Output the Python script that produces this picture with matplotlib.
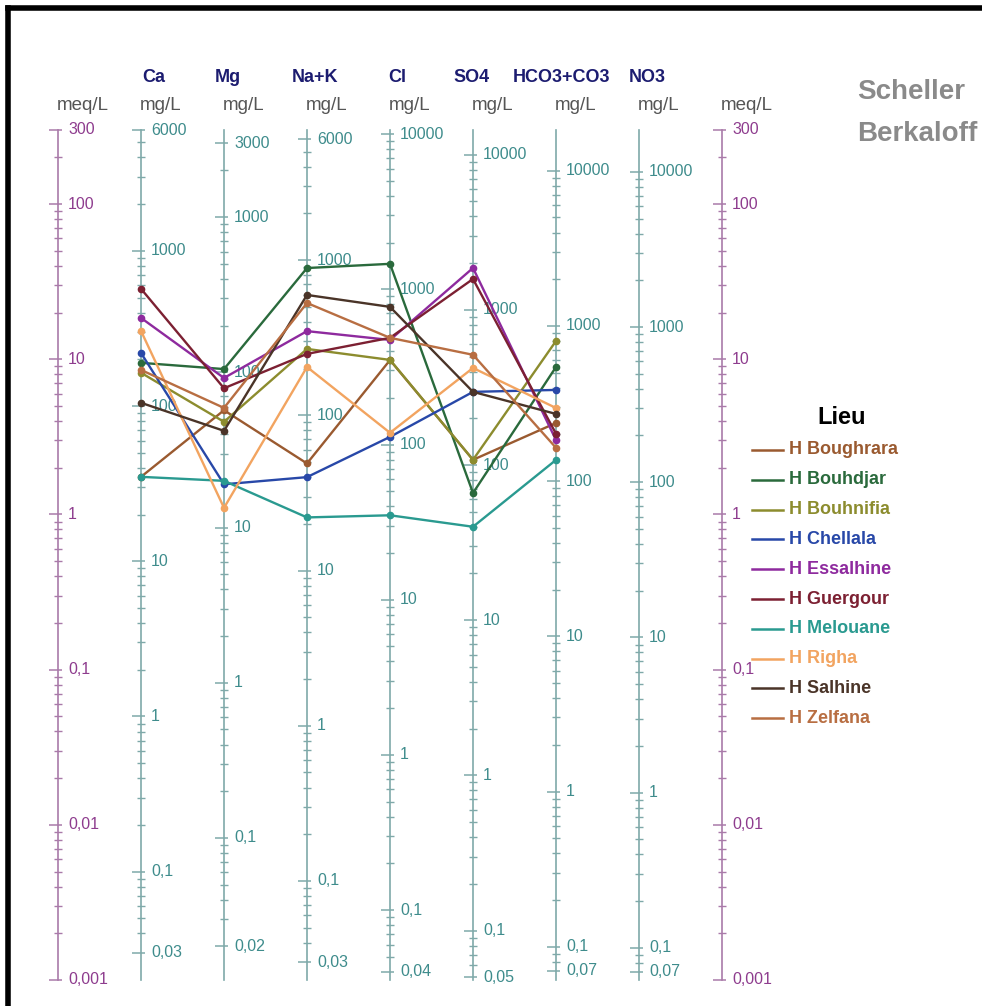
import numpy as np
import matplotlib.pyplot as plt
from matplotlib.lines import Line2D

plt.rcParams['font.family'] = ['Liberation Sans', 'DejaVu Sans']

# ion axes (left to right) and the equivalent weight used to convert mg/L -> meq/L
ions = ["Ca", "Mg", "Na+K", "Cl", "SO4", "HCO3+CO3", "NO3"]
eq_weight = [20.04, 12.15, 23.0, 35.45, 48.03, 61.02, 62.0]

sites = ["H Boughrara", "H Bouhdjar", "H Bouhnifia", "H Chellala", "H Essalhine",
         "H Guergour", "H Melouane", "H Righa", "H Salhine", "H Zelfana"]
colors = ["#9a5a30", "#2a6a3c", "#8c8c2e", "#2848a8", "#8e2a9e",
          "#7c2032", "#2a9a90", "#f2a460", "#4a3428", "#b86e42"]

# concentrations in mg/L, one value per site (same order as `sites`)
ca   = [35, 190, 164, 220, 370, 570, 35, 305, 105, 171]
mg   = [57, 105, 48, 19, 92, 79, 20, 13.4, 42, 59]
na_k = [49, 890, 268, 40, 349, 249, 22, 205, 597, 530]
cl   = [350, 1460, 351, 112, 472, 487, 35, 119, 771, 487]
so4  = [108, 66, 108, 296, 1860, 1580, 40, 422, 296, 513]
hco3 = [237, 544, 800, 387, 184, 202, 137, 296, 271, 164]

MEQ_LO, MEQ_HI = 0.001, 300.0
W, H = 982, 1006
PX = 664 / 8  # pixels per axis step


def fx(x):
    return x / W


def fy(y):
    return 1 - y / H


def nice_ticks(lo, hi):
    vals = []
    for n in range(int(np.floor(np.log10(lo))), int(np.ceil(np.log10(hi))) + 1):
        for k in range(1, 10):
            v = k * 10.0 ** n
            if lo * (1 - 1e-9) <= v <= hi * (1 + 1e-9):
                vals.append(v)
    return vals


def fmt(v):
    return f"{v:g}".replace(".", ",")


fig = plt.figure(figsize=(W / 100, H / 100), dpi=100)
ax = fig.add_axes([fx(58), fy(980), 664 / W, 850 / H])
ax.set_yscale("log")
ax.set_xlim(0, 8)
ax.set_ylim(MEQ_LO, MEQ_HI)
ax.axis("off")


def draw_axis(x, factor, line_col, txt_col):
    lo, hi = MEQ_LO * factor, MEQ_HI * factor
    ax.plot([x, x], [MEQ_LO, MEQ_HI], color=line_col, lw=1.2, clip_on=False, zorder=1)
    vals = nice_ticks(lo, hi)
    for v in vals:
        dec = abs(np.log10(v) - round(np.log10(v))) < 1e-9
        end = v == vals[0] or v == vals[-1]
        m = v / factor
        if dec or end:
            ax.hlines(m, x - 9 / PX, x + 4 / PX, color=line_col, lw=1.1, clip_on=False, zorder=1)
            ax.text(x + 10 / PX, m, fmt(v), color=txt_col, fontsize=11.5,
                    ha="left", va="center", clip_on=False)
        else:
            ax.hlines(m, x - 4 / PX, x + 4 / PX, color=line_col, lw=1.0, clip_on=False, zorder=1)


# meq/L axes on both sides
for x in (0, 8):
    draw_axis(x, 1.0, "#a97aa9", "#8e3c8e")

# mg/L axes for each ion
for i, w in enumerate(eq_weight):
    draw_axis(i + 1, w, "#7fa9a9", "#3e8c8c")

# site profiles (NO3 not measured)
values = np.array([ca, mg, na_k, cl, so4, hco3], dtype=float)
meq = values / np.array(eq_weight[:6])[:, None]
xs = np.arange(1, 7)
for j, site in enumerate(sites):
    ax.plot(xs, meq[:, j], color=colors[j], lw=1.7, marker="o", ms=4.5, zorder=3)

# headers
header_x = [154, 228, 315, 397, 472, 562, 647]
for name, hx in zip(ions, header_x):
    fig.text(fx(hx), fy(77), name, ha="center", va="center", fontsize=13,
             fontweight="bold", color="#1c1c70")

axis_px = [58 + k * PX for k in range(9)]
units = ["meq/L"] + ["mg/L"] * 7 + ["meq/L"]
for px, u in zip(axis_px, units):
    fig.text(fx(px - 1), fy(105), u, ha="left", va="center", fontsize=13.5, color="#555555")

fig.text(fx(857), fy(92), "Scheller", ha="left", va="center", fontsize=20,
         fontweight="bold", color="#8a8a8a")
fig.text(fx(857), fy(134), "Berkaloff", ha="left", va="center", fontsize=20,
         fontweight="bold", color="#8a8a8a")

# legend
fig.text(fx(842), fy(418), "Lieu", ha="center", va="center", fontsize=17,
         fontweight="bold", color="black")
for j, site in enumerate(sites):
    yy = 450 + j * 29.8
    fig.add_artist(Line2D([fx(752), fx(783)], [fy(yy), fy(yy)], color=colors[j], lw=1.8,
                          transform=fig.transFigure))
    fig.text(fx(789), fy(yy), site, ha="left", va="center", fontsize=13,
             fontweight="bold", color=colors[j])

# frame
fig.add_artist(Line2D([fx(8), 1], [fy(8), fy(8)], color="black", lw=4, transform=fig.transFigure))
fig.add_artist(Line2D([fx(8), fx(8)], [0, fy(8)], color="black", lw=4, transform=fig.transFigure))

fig.savefig("out.png", dpi=100)
